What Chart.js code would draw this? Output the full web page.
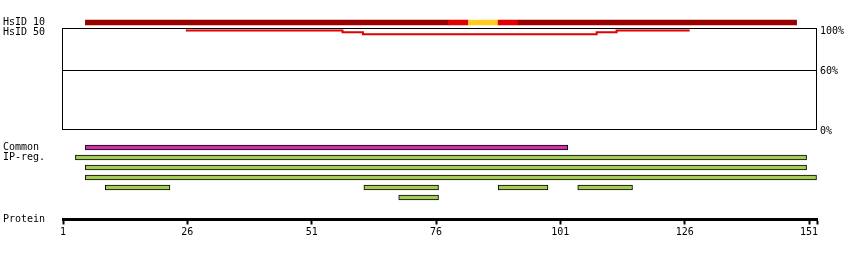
<!DOCTYPE html>
<html>
<head>
<meta charset="utf-8">
<script src="https://cdn.jsdelivr.net/npm/chart.js@4"></script>
<style>
  html, body { margin: 0; padding: 0; background: #fff; }
  #wrap { position: relative; width: 850px; height: 260px; overflow: hidden; }
  canvas { position: absolute; left: 0; }
</style>
</head>
<body>
<div id="wrap">
  <canvas id="identity" width="850" height="140" style="top:0"></canvas>
  <canvas id="hsid" width="850" height="45" style="top:0"></canvas>
  <canvas id="tracks" width="850" height="80" style="top:130px"></canvas>
  <canvas id="protein" width="850" height="70" style="top:190px"></canvas>
</div>
<script>
// ---------------- data (residue positions) ----------------
const X_MIN = 1;
const X_MAX = 152.6;
const PROTEIN_TICKS = [1, 26, 51, 76, 101, 126, 151];

// HsID 10 coverage bar, split into coloured segments
const HSID10_START = [6, 79, 83, 89, 93];
const HSID10_END   = [78, 82, 88, 92, 148];
const HSID10_LEVEL = [0, 1, 2, 1, 0];

// HsID 50 identity profile (step line)
const HSID50_POS      = [25.7, 57.2, 61.3, 108.3, 112.3, 127];
const HSID50_IDENTITY = [100, 98, 96, 98, 100, 100];
const IDENTITY_TICKS  = [0, 60, 100];
const IDENTITY_MAX    = 101.9;

// Lower tracks
const TRACK_LABELS = ['Common', 'IP-reg.', '', '', '', ''];
const COMMON_START = [6];
const COMMON_END   = [102];
const COMMON_ROW   = [0];
const IPREG_START  = [4, 6, 6, 10, 62, 89, 105, 69];
const IPREG_END    = [150, 150, 152, 22, 76, 98, 115, 76];
const IPREG_ROW    = [1, 2, 3, 4, 4, 4, 4, 5];

// ---------------- styles ----------------
const LEVEL_COLORS = ['#990000', '#e00000', '#ffcc22'];
const LINE_COLOR = '#e00000';
const COMMON_COLOR = '#cc33aa';
const IPREG_COLOR = '#a5cb57';

Chart.defaults.font.family = '"DejaVu Sans Mono", monospace';
Chart.defaults.font.size = 10;
Chart.defaults.color = '#000';
Chart.defaults.animation = false;
Chart.defaults.plugins.legend.display = false;
Chart.defaults.plugins.tooltip.enabled = false;

const TRACK_KEYS = TRACK_LABELS.map((l, i) => 'row' + i);

function ranges(starts, ends, rows, keys) {
  return starts.map((s, i) => ({ x: [s - 0.5, ends[i] + 0.5], y: keys[rows[i]] }));
}

function leftAxis(labels, tickLabels, offset) {
  return {
    type: 'category',
    labels: labels,
    offset: offset,
    grid: { display: false },
    border: { display: false },
    ticks: {
      crossAlign: 'far',
      autoSkip: false,
      padding: 0,
      callback: (v, i) => tickLabels[i]
    },
    afterFit: s => { s.width = 60; }
  };
}

const hiddenX = { type: 'linear', min: X_MIN, max: X_MAX, display: false };

// ---------------- identity box (HsID 50) ----------------
const framePlugin = {
  id: 'frame',
  beforeDatasetsDraw(chart) {
    const { ctx, chartArea: a } = chart;
    ctx.save();
    ctx.strokeStyle = '#000';
    ctx.lineWidth = 1;
    ctx.strokeRect(a.left - 0.5, a.top, a.right - a.left, a.bottom - a.top);
    ctx.restore();
  }
};

new Chart(document.getElementById('identity'), {
  type: 'line',
  data: {
    datasets: [{
      label: 'HsID 50',
      data: HSID50_POS.map((p, i) => ({ x: p, y: HSID50_IDENTITY[i] })),
      borderColor: LINE_COLOR,
      borderWidth: 2,
      pointRadius: 0,
      stepped: true,
      fill: false
    }]
  },
  options: {
    responsive: false,
    devicePixelRatio: 1,
    layout: { padding: { left: 63, right: 0, top: 28.5, bottom: 10.5 } },
    scales: {
      x: hiddenX,
      y: {
        type: 'linear',
        position: 'right',
        min: 0,
        max: IDENTITY_MAX,
        afterBuildTicks: s => { s.ticks = IDENTITY_TICKS.map(v => ({ value: v })); },
        ticks: { padding: 3, labelOffset: 1.5, callback: v => v + '%' },
        grid: {
          drawTicks: false,
          lineWidth: 1,
          color: c => (c.tick && c.tick.value === 60) ? '#000' : 'rgba(0,0,0,0)'
        },
        border: { display: false },
        afterFit: s => { s.width = 33; }
      }
    }
  },
  plugins: [framePlugin]
});

// ---------------- HsID rows ----------------
new Chart(document.getElementById('hsid'), {
  type: 'bar',
  data: {
    datasets: [{
      label: 'HsID 10',
      data: ranges(HSID10_START, HSID10_END, HSID10_START.map(() => 0), ['HsID 10']),
      backgroundColor: HSID10_LEVEL.map(l => LEVEL_COLORS[l]),
      borderWidth: 0,
      barThickness: 5,
      grouped: false
    }]
  },
  options: {
    indexAxis: 'y',
    responsive: false,
    devicePixelRatio: 1,
    layout: { padding: { left: 3, right: 33, top: 17.5, bottom: 7.5 } },
    scales: {
      x: hiddenX,
      y: leftAxis(['HsID 10', 'HsID 50'], ['HsID 10', 'HsID 50'], true)
    }
  }
});

// ---------------- Common / IP-reg tracks ----------------
new Chart(document.getElementById('tracks'), {
  type: 'bar',
  data: {
    datasets: [{
      label: 'Common',
      data: ranges(COMMON_START, COMMON_END, COMMON_ROW, TRACK_KEYS),
      backgroundColor: COMMON_COLOR,
      borderColor: '#000',
      borderWidth: 1,
      borderSkipped: false,
      barThickness: 5,
      grouped: false
    }, {
      label: 'IP-reg.',
      data: ranges(IPREG_START, IPREG_END, IPREG_ROW, TRACK_KEYS),
      backgroundColor: IPREG_COLOR,
      borderColor: '#000',
      borderWidth: 1,
      borderSkipped: false,
      barThickness: 5,
      grouped: false
    }]
  },
  options: {
    indexAxis: 'y',
    responsive: false,
    devicePixelRatio: 1,
    layout: { padding: { left: 3, right: 33, top: 12.5, bottom: 7.5 } },
    scales: {
      x: hiddenX,
      y: leftAxis(TRACK_KEYS, TRACK_LABELS, true)
    }
  }
});

// ---------------- Protein axis ----------------
new Chart(document.getElementById('protein'), {
  type: 'line',
  data: { datasets: [] },
  options: {
    responsive: false,
    devicePixelRatio: 1,
    layout: { padding: { left: 3, right: 33, top: 9.5, bottom: 10.5 } },
    scales: {
      x: {
        type: 'linear',
        position: 'bottom',
        min: X_MIN,
        max: X_MAX,
        afterBuildTicks: s => { s.ticks = PROTEIN_TICKS.concat([X_MAX]).map(v => ({ value: v })); },
        ticks: {
          autoSkip: false,
          maxRotation: 0,
          padding: 2,
          callback: v => PROTEIN_TICKS.includes(v) ? String(v) : ''
        },
        grid: { drawOnChartArea: false, drawTicks: true, tickLength: 5, tickWidth: 2, tickColor: '#000' },
        border: { display: true, width: 3, color: '#000' },
        afterFit: s => { s.height = 30; }
      },
      y: leftAxis(['', 'Protein'], ['', 'Protein'], false)
    }
  }
});
</script>
</body>
</html>
